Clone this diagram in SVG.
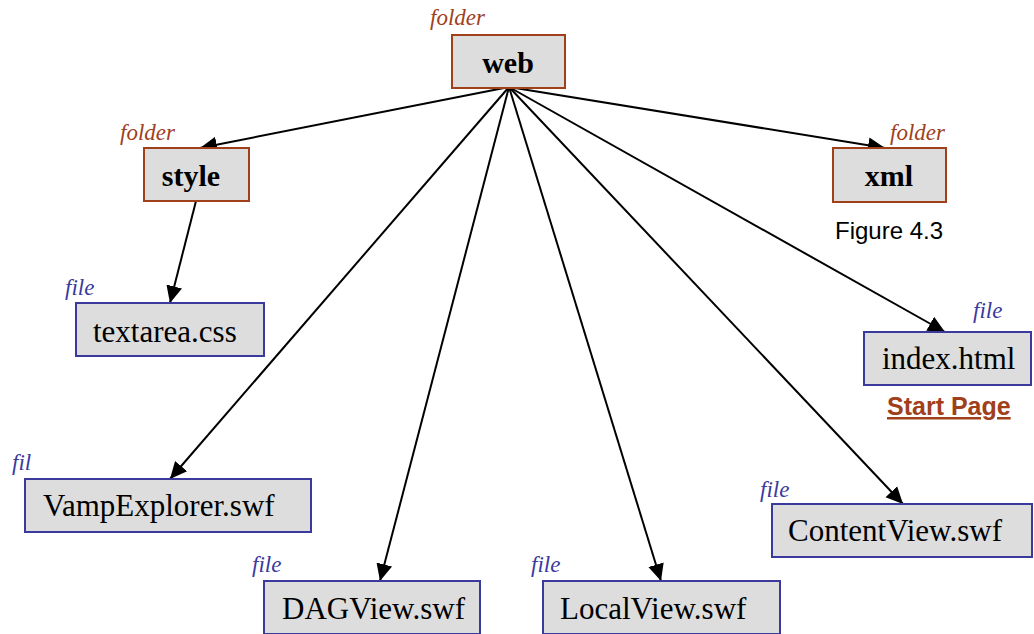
<svg xmlns="http://www.w3.org/2000/svg" width="1034" height="634" viewBox="0 0 1034 634">
<style>
.folder rect{fill:#dddddd;stroke:#a0401a;stroke-width:2}
.file rect{fill:#dddddd;stroke:#3a3a9c;stroke-width:2}
.fl{font-family:"Liberation Serif",serif;font-style:italic;font-size:23px;fill:#a0401a}
.fi{font-family:"Liberation Serif",serif;font-style:italic;font-size:23px;fill:#3a3a9c}
.bn{font-family:"Liberation Serif",serif;font-weight:bold;font-size:30px;fill:#000;text-anchor:middle}
.nn{font-family:"Liberation Serif",serif;font-size:31px;fill:#000}
.cap{font-family:"Liberation Sans",sans-serif;font-size:24px;fill:#000}
.sp{font-family:"Liberation Sans",sans-serif;font-weight:bold;font-size:25px;fill:#a0401a;text-decoration:underline}
#edges line{stroke:#000;stroke-width:2;marker-end:url(#ah)}
</style>
<defs>
<marker id="ah" markerUnits="userSpaceOnUse" markerWidth="18" markerHeight="18" refX="17" refY="8" orient="auto" viewBox="0 0 18 16">
<path d="M0,0 L17,8 L0,16 Z" fill="#000"/>
</marker>
</defs>
<rect width="1034" height="634" fill="#fff"/>
<g id="edges">
<line x1="509" y1="87" x2="200" y2="148"/>
<line x1="509" y1="87" x2="885" y2="148"/>
<line x1="196" y1="201" x2="170" y2="303"/>
<line x1="509" y1="87" x2="170" y2="479"/>
<line x1="509" y1="87" x2="380" y2="581"/>
<line x1="509" y1="87" x2="661" y2="581"/>
<line x1="509" y1="87" x2="903" y2="504"/>
<line x1="509" y1="87" x2="945" y2="332"/>
</g>
<g id="web" class="folder">
<text class="fl" x="430" y="25">folder</text>
<rect x="452" y="35" width="113" height="53"/>
<text class="bn" x="508" y="73">web</text>
</g>
<g id="style" class="folder">
<text class="fl" x="120" y="140">folder</text>
<rect x="144" y="148" width="105" height="53"/>
<text class="bn" x="191" y="186">style</text>
</g>
<g id="xml" class="folder">
<text class="fl" x="890" y="140">folder</text>
<rect x="833" y="148" width="113" height="54"/>
<text class="bn" x="889" y="186">xml</text>
</g>
<text class="cap" x="835" y="239">Figure 4.3</text>
<g id="textarea" class="file">
<text class="fi" x="65" y="295">file</text>
<rect x="76" y="303" width="188" height="53"/>
<text class="nn" x="93" y="342">textarea.css</text>
</g>
<g id="index" class="file">
<text class="fi" x="973" y="318">file</text>
<rect x="864" y="332" width="167" height="53"/>
<text class="nn" x="882" y="369">index.html</text>
</g>
<text class="sp" x="887" y="415">Start Page</text>
<g id="vamp" class="file">
<text class="fi" x="12" y="470">fil</text>
<rect x="25" y="479" width="286" height="53"/>
<text class="nn" x="43" y="516">VampExplorer.swf</text>
</g>
<g id="content" class="file">
<text class="fi" x="760" y="497">file</text>
<rect x="772" y="504" width="260" height="53"/>
<text class="nn" x="788" y="541">ContentView.swf</text>
</g>
<g id="dag" class="file">
<text class="fi" x="252" y="572">file</text>
<rect x="264" y="581" width="216" height="53"/>
<text class="nn" x="282" y="619">DAGView.swf</text>
</g>
<g id="local" class="file">
<text class="fi" x="531" y="572">file</text>
<rect x="543" y="581" width="237" height="53"/>
<text class="nn" x="560" y="619">LocalView.swf</text>
</g>
</svg>
